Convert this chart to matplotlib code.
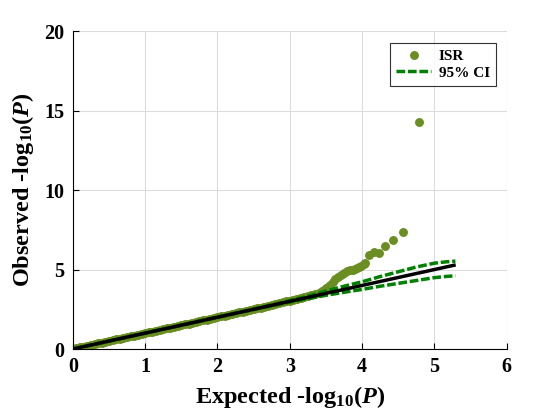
import matplotlib
matplotlib.use('Agg')
import matplotlib.pyplot as plt

plt.rcParams['font.family'] = ['Liberation Serif', 'DejaVu Serif']
plt.rcParams['font.weight'] = 'bold'
plt.rcParams['mathtext.fontset'] = 'custom'
plt.rcParams['mathtext.rm'] = 'Liberation Serif:bold'
plt.rcParams['mathtext.bf'] = 'Liberation Serif:bold'
plt.rcParams['mathtext.it'] = 'Liberation Serif:italic:bold'

# observed points (expected, observed)
obs_expected = [0.00, 0.05, 0.10, 0.15, 0.20, 0.25, 0.30, 0.35, 0.40, 0.45,
                0.50, 0.55, 0.60, 0.65, 0.70, 0.75, 0.80, 0.85, 0.90, 0.95,
                1.00, 1.05, 1.10, 1.15, 1.20, 1.25, 1.30, 1.35, 1.40, 1.45,
                1.50, 1.55, 1.60, 1.65, 1.70, 1.75, 1.80, 1.85, 1.90, 1.95,
                2.00, 2.05, 2.10, 2.15, 2.20, 2.25, 2.30, 2.35, 2.40, 2.45,
                2.50, 2.55, 2.60, 2.65, 2.70, 2.75, 2.80, 2.85, 2.90, 2.95,
                3.00, 3.05, 3.10, 3.15, 3.20, 3.25, 3.30, 3.35, 3.40, 3.45,
                3.47, 3.50, 3.53, 3.56, 3.60, 3.63, 3.67, 3.71, 3.75, 3.79,
                3.83, 3.87, 3.90, 3.93, 3.96, 3.99, 4.02, 4.04, 4.09, 4.16,
                4.23, 4.32, 4.43, 4.57, 4.79]
obs_observed = [0.00, 0.05, 0.10, 0.15, 0.20, 0.25, 0.30, 0.35, 0.40, 0.45,
                0.50, 0.55, 0.60, 0.65, 0.70, 0.75, 0.80, 0.85, 0.90, 0.95,
                1.00, 1.05, 1.10, 1.15, 1.20, 1.25, 1.30, 1.35, 1.40, 1.45,
                1.50, 1.55, 1.60, 1.65, 1.70, 1.75, 1.80, 1.85, 1.90, 1.95,
                2.00, 2.05, 2.10, 2.15, 2.20, 2.25, 2.30, 2.35, 2.40, 2.45,
                2.51, 2.56, 2.61, 2.66, 2.71, 2.77, 2.82, 2.87, 2.93, 2.99,
                3.05, 3.10, 3.17, 3.22, 3.28, 3.33, 3.39, 3.44, 3.52, 3.62,
                3.71, 3.82, 3.92, 4.03, 4.20, 4.38, 4.55, 4.68, 4.80, 4.88,
                4.95, 4.99, 5.03, 5.08, 5.15, 5.24, 5.32, 5.39, 5.90, 6.08,
                6.04, 6.48, 6.86, 7.34, 14.26]
n_bulk = 70  # dense part that merges into a band

# expected line
exp_line = [0.0, 5.27]

# 95% confidence band
ci_x = [0.0, 2.50, 3.00, 3.25, 3.50, 3.75, 4.00, 4.25, 4.50, 4.75, 5.00, 5.15, 5.29]
ci_upper = [0.0, 2.52, 3.05, 3.33, 3.65, 3.95, 4.23, 4.56, 4.86, 5.16, 5.40, 5.48, 5.53]
ci_lower = [0.0, 2.48, 2.95, 3.17, 3.38, 3.57, 3.75, 3.95, 4.13, 4.31, 4.49, 4.56, 4.61]

olive = '#6B8E23'

fig = plt.figure(figsize=(5.6, 4.2), dpi=100)
ax = fig.add_axes([0.13, 0.169, 0.775, 0.757])

ax.plot(obs_expected[:n_bulk], obs_observed[:n_bulk], '-', color=olive,
        lw=5.0, solid_capstyle='round', zorder=2)
ax.plot(obs_expected, obs_observed, 'o', color=olive, markersize=5.4,
        label='ISR', zorder=2)
ax.plot(ci_x, ci_upper, color='green', lw=2.5, dashes=(2.5, 0.8),
        label='95% CI', zorder=3)
ax.plot(ci_x, ci_lower, color='green', lw=2.5, dashes=(2.5, 0.8), zorder=3)
ax.plot(exp_line, exp_line, color='black', lw=2.5, zorder=4)

ax.set_xlim(0, 6)
ax.set_ylim(0, 20)
ax.set_xticks([0, 1, 2, 3, 4, 5, 6])
ax.set_yticks([0, 5, 10, 15, 20])
ax.grid(True, color='#dcdcdc', lw=0.8)
ax.set_axisbelow(True)
for s in ['top', 'right']:
    ax.spines[s].set_visible(False)
ax.tick_params(direction='in', length=4, labelsize=14.5, pad=6)
for lab in ax.get_xticklabels() + ax.get_yticklabels():
    lab.set_fontweight('bold')

ax.set_xlabel('Expected -log$_{10}$($P$)', fontsize=17.5, fontweight='bold', labelpad=5)
ax.set_ylabel('Observed -log$_{10}$($P$)', fontsize=17.5, fontweight='bold', labelpad=6)

leg = ax.legend(loc='upper right', bbox_to_anchor=(0.975, 0.962), fontsize=11,
                frameon=True, fancybox=False, handlelength=2.3, handletextpad=0.5,
                borderpad=0.4, labelspacing=0.2, borderaxespad=0.0)
leg.get_frame().set_edgecolor('black')
leg.get_frame().set_linewidth(0.8)
for t in leg.get_texts():
    t.set_fontweight('bold')

fig.savefig('out.png', dpi=100)
